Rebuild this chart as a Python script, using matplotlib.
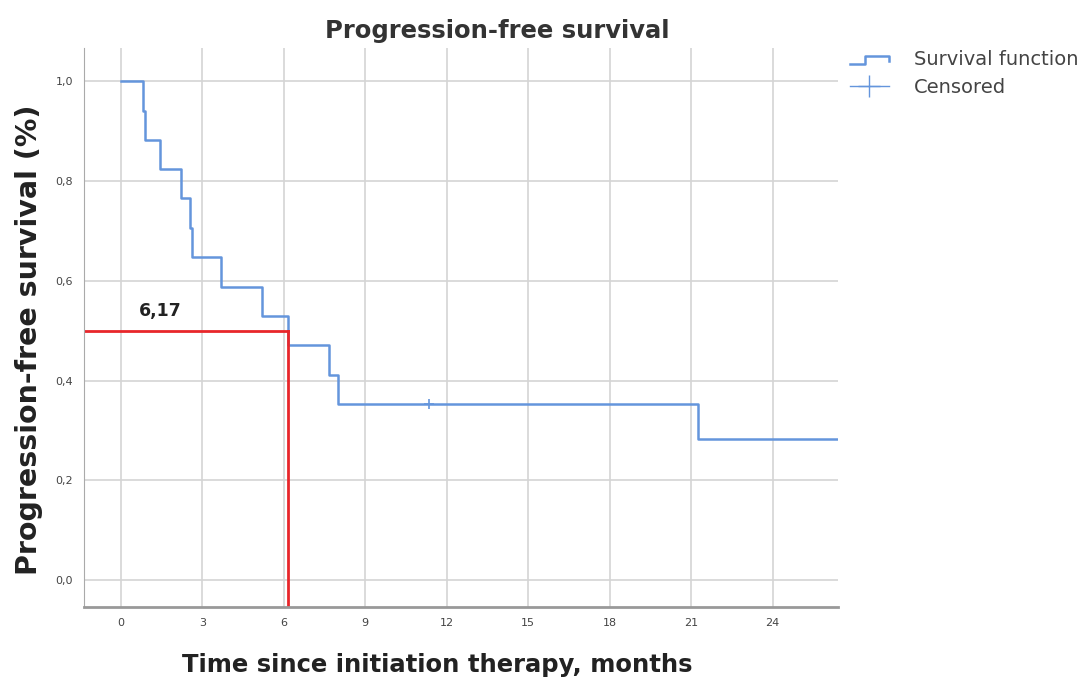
import matplotlib
matplotlib.use("Agg")
import matplotlib.pyplot as plt
from matplotlib.legend_handler import HandlerBase
from matplotlib.lines import Line2D

# Kaplan-Meier step data
times = [0, 0.8, 0.9, 1.43, 2.2, 2.54, 2.62, 3.7, 5.18, 6.17, 7.68, 7.98, 21.25, 26.4]
surv = [1.0, 0.941, 0.882, 0.824, 0.765, 0.706, 0.647, 0.588, 0.529, 0.471, 0.412, 0.353, 0.282, 0.282]
censor_t = [11.36]
censor_s = [0.353]
median_t = 6.17

xticks = [0, 3, 6, 9, 12, 15, 18, 21, 24]
yticks = [0.0, 0.2, 0.4, 0.6, 0.8, 1.0]
ylabels = ["0,0", "0,2", "0,4", "0,6", "0,8", "1,0"]

blue = "#6495dc"
red = "#e8262a"


class StepHandler(HandlerBase):
    def create_artists(self, legend, orig, xd, yd, w, h, fontsize, trans):
        xs = [xd, xd + w * 0.4, xd + w * 0.4, xd + w, xd + w]
        ys = [yd + h * 0.1, yd + h * 0.1, yd + h * 0.7, yd + h * 0.7, yd + h * 0.3]
        ln = Line2D(xs, ys, color=blue, lw=1.8, transform=trans)
        return [ln]


fig = plt.figure(figsize=(10.88, 6.79), dpi=100)
ax = fig.add_axes([0.0772, 0.106, 0.6928, 0.823])

ax.step(times, surv, where="post", color=blue, lw=1.8)
ax.plot(censor_t, censor_s, "+", color=blue, ms=7, mew=1.2)

# median lines
ax.plot([-1.4, median_t], [0.5, 0.5], color=red, lw=2)
ax.plot([median_t, median_t], [0.5, -0.06], color=red, lw=2)
ax.text(1.45, 0.54, "6,17", fontsize=12.5, fontweight="bold", color="#222222", ha="center", va="center")

ax.set_xlim(-1.36, 26.4)
ax.set_ylim(-0.054, 1.066)
ax.set_xticks(xticks)
ax.set_xticklabels([str(t) for t in xticks])
ax.set_yticks(yticks)
ax.set_yticklabels(ylabels)
ax.tick_params(length=0, labelsize=8, colors="#444444", pad=8)
ax.grid(True, color="#d4d4d4", lw=1.2)
ax.set_axisbelow(True)
for s in ["top", "right"]:
    ax.spines[s].set_visible(False)
ax.spines["left"].set_color("#aaaaaa")
ax.spines["bottom"].set_color("#999999")
ax.spines["bottom"].set_linewidth(2)

fig.text(0.457, 0.955, "Progression-free survival", fontsize=17.5, fontweight="bold",
         color="#333333", ha="center", va="center")
fig.text(0.402, 0.021, "Time since initiation therapy, months", fontsize=17.5,
         fontweight="bold", color="#222222", ha="center", va="center")
fig.text(0.027, 0.5, "Progression-free survival (%)", fontsize=20.5, fontweight="bold",
         color="#222222", ha="center", va="center", rotation=90)

h1 = Line2D([], [], color=blue)
h2 = Line2D([], [], color=blue, marker="+", ms=16, lw=1, mew=1)
leg = fig.legend([h1, h2], ["Survival function", "Censored"],
                 handler_map={h1: StepHandler()},
                 loc="upper left", bbox_to_anchor=(0.765, 0.952), frameon=False,
                 fontsize=14, handlelength=2.0, labelspacing=0.45, handletextpad=1.3)
for t in leg.get_texts():
    t.set_color("#444444")

fig.savefig("out.png", dpi=100)
